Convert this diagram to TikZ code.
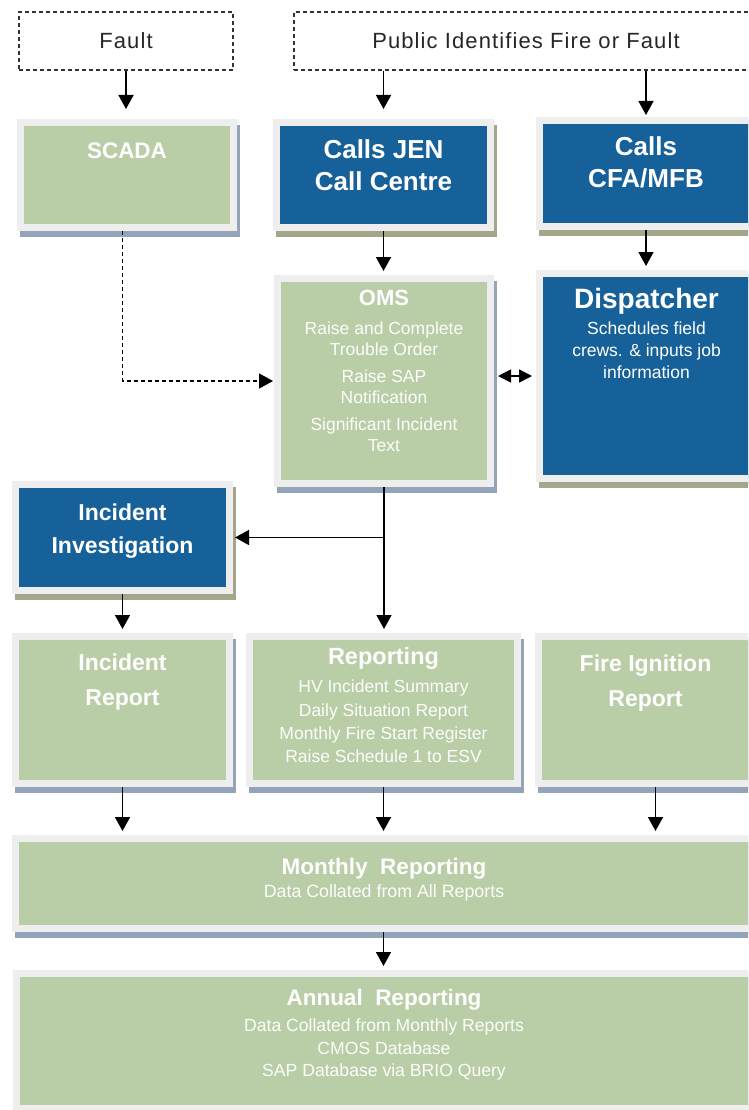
\documentclass[tikz,border=0pt]{standalone}
\usepackage{fontspec}
\setmainfont{Liberation Sans}
\newfontfamily\srcfont[LetterSpace=5]{Liberation Sans}
\usepackage{xcolor}
\usetikzlibrary{arrows.meta,positioning,shadows}
\definecolor{boxgreen}{HTML}{B9CEA6}
\definecolor{boxblue}{HTML}{16619A}
\definecolor{boxframe}{HTML}{EEEEEE}
\definecolor{shadegreen}{HTML}{93A3B8}
\definecolor{shadeblue}{HTML}{A4A58B}

\begin{document}
\begin{tikzpicture}[x=1pt,y=-1pt,
    box/.style={draw=boxframe, line width=7pt, inner sep=0pt,
      general shadow={fill=#1, draw=#1, line width=7pt, shadow xshift=3pt, shadow yshift=-6pt}},
    gbox/.style={box=shadegreen, fill=boxgreen},
    bbox/.style={box=shadeblue, fill=boxblue},
    src/.style={draw=black!80, line width=1.1pt, dash pattern=on 4pt off 3pt,
      font=\fontsize{22}{26}\srcfont, text=black!85},
    ttl/.style={text=white, align=center, inner sep=0pt, font=\bfseries\fontsize{23}{34}\selectfont},
    txt/.style={text=white!96!boxgreen, align=center, inner sep=0pt, font=\fontsize{17.5}{21}\selectfont},
    arr/.style={-{Triangle[length=14pt,width=15pt]}, line width=1.5pt, shorten >=4pt},
    arr2/.style={{Triangle[length=13pt,width=13pt]}-{Triangle[length=13pt,width=13pt]},
      line width=1.5pt, shorten <=4pt, shorten >=4pt},
  ]
  \useasboundingbox (0,0) rectangle (748,1110);
  \clip (0,0) rectangle (748,1110);

  \node[src, minimum width=214pt, minimum height=58pt] (fault) at (126,41) {Fault};
  \node[src, minimum width=464pt, minimum height=58pt] (public) at (526,41) {Public Identifies Fire or Fault};

  \node[gbox, minimum width=213pt, minimum height=105pt] (scada) at (127,175) {};
  \node[bbox, minimum width=214pt, minimum height=105pt] (jen) at (383.5,175) {};
  \node[bbox, minimum width=214pt, minimum height=106pt] (cfa) at (646,173.5) {};
  \node[gbox, minimum width=213pt, minimum height=205pt] (oms) at (384,381) {};
  \node[bbox, minimum width=214pt, minimum height=205pt] (disp) at (646.5,376) {};
  \node[bbox, minimum width=214pt, minimum height=106pt] (inv) at (122.5,537.5) {};
  \node[gbox, minimum width=214pt, minimum height=147pt] (irep) at (122.5,710) {};
  \node[gbox, minimum width=268pt, minimum height=147pt] (rep) at (383.5,710) {};
  \node[gbox, minimum width=214pt, minimum height=147pt] (fire) at (645.5,710) {};
  \node[gbox, minimum width=737pt, minimum height=90pt] (monthly) at (384,883.5) {};
  \node[gbox, minimum width=735pt, minimum height=135pt] (annual) at (384,1041) {};

  \node[ttl, font=\bfseries\fontsize{22.5}{27}\selectfont, below=24pt of scada.north] (scada-t) {SCADA};
  \node[ttl, font=\bfseries\fontsize{26}{32}\selectfont, below=20pt of jen.north] (jen-t) {Calls JEN\\Call Centre};
  \node[ttl, font=\bfseries\fontsize{26}{32}\selectfont, below=19.5pt of cfa.north] (cfa-t) {Calls\\CFA/MFB};
  \node[ttl, font=\bfseries\fontsize{22}{26}\selectfont, below=14.5pt of oms.north] (oms-t) {OMS};
  \node[txt, below=47pt of oms.north] (oms-b) {Raise and Complete\\Trouble Order\\[6pt]Raise SAP\\Notification\\[6pt]Significant Incident\\Text};
  \node[ttl, font=\bfseries\fontsize{28}{32}\selectfont, below=18.5pt of disp.north] (disp-t) {Dispatcher};
  \node[txt, text=white, font=\fontsize{17.5}{22}\selectfont, below=52pt of disp.north] (disp-b) {Schedules field\\crews. \& inputs job\\information};
  \node[ttl, font=\bfseries\fontsize{23}{33}\selectfont, below=22.5pt of inv.north] (inv-t) {Incident\\Investigation};
  \node[ttl, font=\bfseries\fontsize{23}{35}\selectfont, below=20.5pt of irep.north] (irep-t) {Incident\\Report};
  \node[ttl, font=\bfseries\fontsize{23.5}{28}\selectfont, below=14.5pt of rep.north] (rep-t) {Reporting};
  \node[txt, font=\fontsize{17.5}{23.3}\selectfont, below=47pt of rep.north] (rep-b) {HV Incident Summary\\Daily Situation Report\\Monthly Fire Start Register\\Raise Schedule 1 to ESV};
  \node[ttl, font=\bfseries\fontsize{23}{35}\selectfont, below=21.5pt of fire.north] (fire-t) {Fire Ignition\\Report};
  \node[ttl, font=\bfseries\fontsize{22.5}{26}\selectfont, below=23pt of monthly.north] (monthly-t) {Monthly\ \ Reporting};
  \node[txt, font=\fontsize{17.8}{22}\selectfont, below=49pt of monthly.north] (monthly-b) {Data Collated from All Reports};
  \node[ttl, font=\bfseries\fontsize{22.5}{26}\selectfont, below=19pt of annual.north] (annual-t) {Annual\ \ Reporting};
  \node[txt, font=\fontsize{17.6}{22.7}\selectfont, below=48.5pt of annual.north] (annual-b) {Data Collated from Monthly Reports\\CMOS Database\\SAP Database via BRIO Query};

  \draw[arr, shorten >=10pt] (fault.south) -- (fault.south |- scada.north);
  \draw[arr, shorten >=10pt] (jen |- public.south) -- (jen.north);
  \draw[arr, shorten >=2pt] (cfa |- public.south) -- (cfa.north);
  \draw[arr] (jen.south) -- (jen.south |- oms.north);
  \draw[arr] (cfa.south) -- (cfa.south |- disp.north);
  \draw[arr2] (oms.east |- disp.west) -- (disp.west);
  \draw[arr, shorten >=1pt, dash pattern=on 4pt off 3pt, line width=1.3pt] (inv |- scada.south) |- (oms.west);
  \draw[arr] (oms.south) -- (oms.south |- rep.north);
  \draw[arr, shorten >=2pt] (oms.south |- inv.east) -- (inv.east);
  \draw[arr] (inv.south) -- (irep.north);
  \draw[arr] (irep.south) -- (irep.south |- monthly.north);
  \draw[arr] (rep.south) -- (rep.south |- monthly.north);
  \draw[arr] ([xshift=10pt]fire.south) -- ([xshift=10pt]fire.south |- monthly.north);
  \draw[arr] (monthly.south -| rep) -- (rep |- annual.north);
\end{tikzpicture}
\end{document}
